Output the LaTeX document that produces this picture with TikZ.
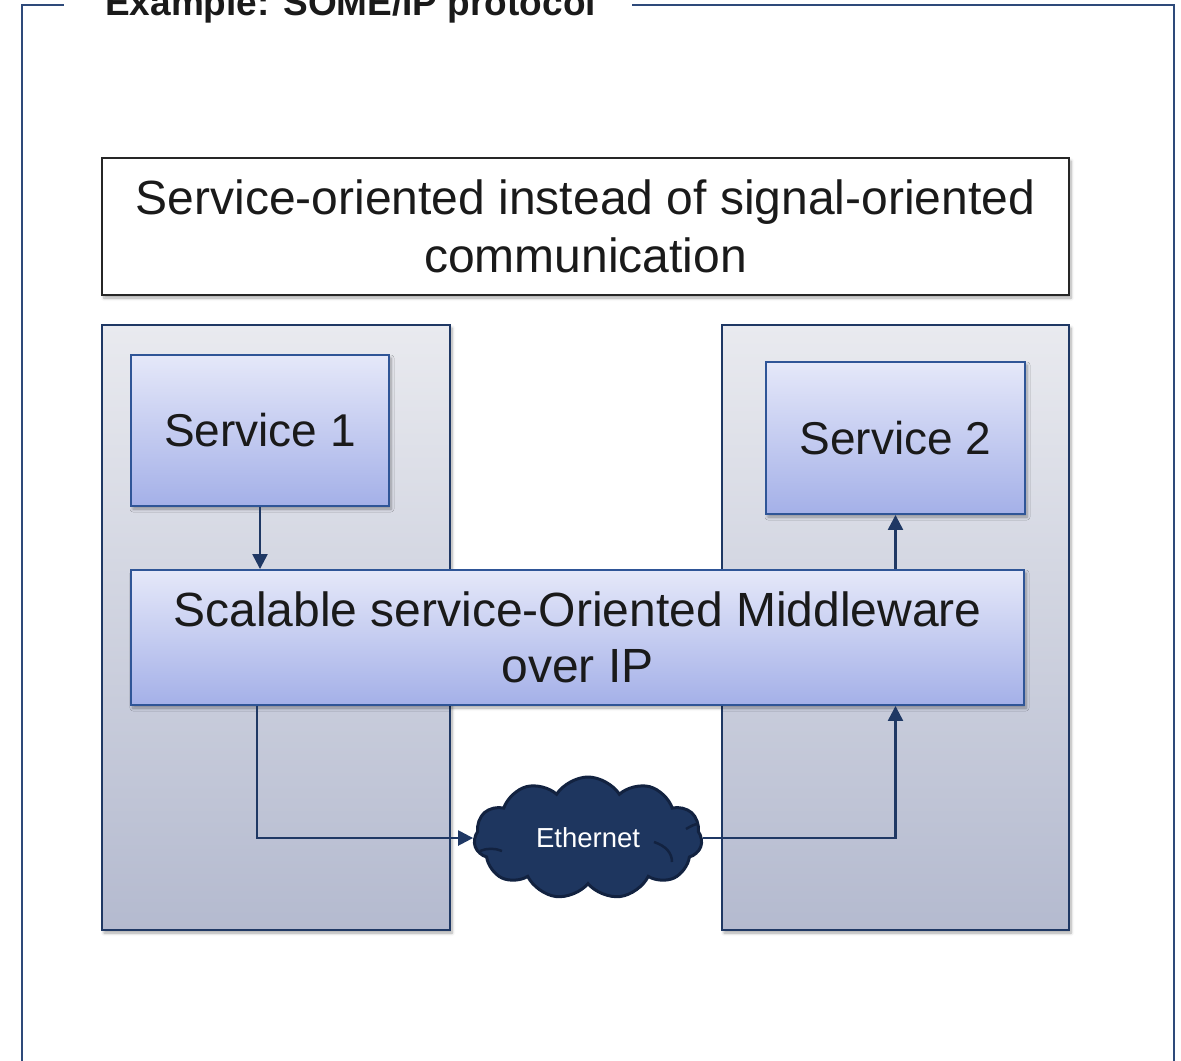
\documentclass[tikz,border=0pt]{standalone}
\usepackage{fontspec}
\setmainfont{Liberation Sans}
\usetikzlibrary{shapes.symbols,arrows.meta,shadows.blur}

\definecolor{frameblue}{RGB}{46,74,122}
\definecolor{navy}{RGB}{31,56,100}
\definecolor{svcborder}{RGB}{47,85,151}
\definecolor{svctop}{RGB}{229,232,249}
\definecolor{svcbot}{RGB}{164,176,232}
\definecolor{paneltop}{RGB}{233,234,239}
\definecolor{panelbot}{RGB}{180,186,207}
\definecolor{cloudfill}{RGB}{30,54,95}
\definecolor{clouddraw}{RGB}{18,34,64}
\definecolor{txt}{RGB}{26,26,26}

\tikzset{
  softshadow/.style={blur shadow={shadow xshift=2bp, shadow yshift=-3bp,
      shadow blur radius=3bp, shadow blur steps=6, shadow opacity=35}},
  headerbox/.style={draw=black!85, line width=1.4bp, fill=white, softshadow,
      inner sep=0pt, align=center, text=txt,
      font=\fontsize{48bp}{58bp}\selectfont},
  panel/.style={draw=navy, line width=2bp, top color=paneltop,
      bottom color=panelbot, softshadow, inner sep=0pt},
  svcbox/.style={draw=svcborder, line width=1.9bp, top color=svctop,
      bottom color=svcbot, softshadow, inner sep=0pt, align=center,
      text=txt, font=\fontsize{46bp}{56bp}\selectfont},
  netcloud/.style={cloud, cloud puffs=11, cloud puff arc=115, aspect=1.85,
      draw=clouddraw, line width=3bp, fill=cloudfill, text=white,
      inner sep=0pt, font=\fontsize{27.5bp}{32bp}\selectfont},
  puffline/.style={draw=clouddraw, line width=2.5bp},
  conn/.style={draw=navy, line width=2.4bp,
      -{Triangle[length=15bp,width=15bp]}},
  frameline/.style={draw=frameblue, line width=2bp}
}

\begin{document}
\begin{tikzpicture}[x=1bp,y=-1bp]
  \useasboundingbox (0,0) rectangle (1181,1061);
  \clip (0,0) rectangle (1181,1061);

  % outer frame with its caption cut into the top edge
  \coordinate (fTL) at (22,5);
  \coordinate (fTR) at (1174,5);
  \coordinate (fBL) at (22,1070);
  \coordinate (fBR) at (1174,1070);
  \coordinate (gapL) at (64,5);
  \coordinate (gapR) at (632,5);
  \draw[frameline] (fBL) -- (fTL) -- (gapL);
  \draw[frameline] (gapR) -- (fTR) -- (fBR);
  \node[anchor=base west, inner sep=0pt, text=txt,
        font=\fontsize{37bp}{44bp}\selectfont\bfseries] (caption)
        at (105,15) {Example: SOME/IP protocol};

  % headline
  \node[headerbox, minimum width=967bp, minimum height=137bp] (head)
        at (585.5,226.5)
        {Service-oriented instead of signal-oriented\\communication};

  % the two ECU panels
  \node[panel, minimum width=348bp, minimum height=605bp] (lpanel) at (276,627.5) {};
  \node[panel, minimum width=347bp, minimum height=605bp] (rpanel) at (895.5,627.5) {};

  % services and middleware
  \node[svcbox, minimum width=258bp, minimum height=151bp] (s1) at (260,430.5) {Service 1};
  \node[svcbox, minimum width=259bp, minimum height=152bp] (s2) at (895.5,438) {Service 2};
  \node[svcbox, minimum width=893bp, minimum height=135bp,
        font=\fontsize{48bp}{56bp}\selectfont] (mw) at (577.5,637.5)
        {Scalable service-Oriented Middleware\\over IP};

  % network
  \node[netcloud, minimum width=228bp, minimum height=122bp] (eth) at (588,838) {};
  % inner puff creases of the cloud
  \begin{scope}[shift={(eth.center)}]
    \draw[puffline] (-108,13) .. controls (-101,10) and (-93,10) .. (-86,13);
    \draw[puffline] (66,4) .. controls (78,8) and (84,15) .. (84,24);
    \draw[puffline] (98,-9) .. controls (103,-12) and (107,-14) .. (110,-14);
  \end{scope}
  \node[text=white, inner sep=0pt, font=\fontsize{27.5bp}{32bp}\selectfont]
        (ethlabel) at (eth.center) {Ethernet};

  % connectors
  \draw[conn] (s1.south) -- (s1.south |- mw.north);
  \draw[conn] (s2.south |- mw.north) -- (s2.south);
  \coordinate (mwout) at ([xshift=-3bp]s1.south |- mw.south);
  \coordinate (mwin) at (s2.south |- mw.south);
  \draw[conn] (mwout) |- (eth.west);
  \draw[conn] (eth.east) -| (mwin);
\end{tikzpicture}
\end{document}
